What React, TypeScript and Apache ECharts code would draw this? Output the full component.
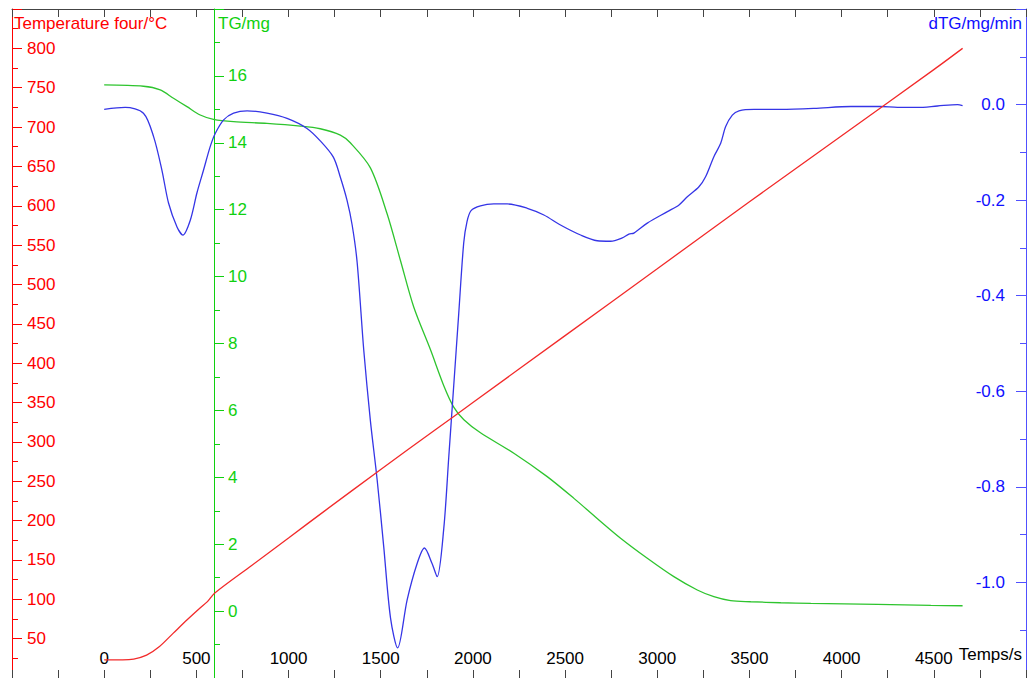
import React, { useEffect, useRef } from "react";
import * as echarts from "echarts";

// Time (s) and furnace temperature (°C)
const tempT = [0, 100, 160, 230, 300, 375, 450, 520, 560, 600, 800, 1000, 1200, 1500, 1800, 2000, 2500, 3000, 3500, 4000, 4500, 4656];
const tempV = [23, 23, 24, 29, 40, 57, 74, 89, 97, 108, 143, 178, 213, 265, 316, 350, 435, 520, 605, 689, 773, 800];

// Time (s) and TG (mg)
const tgT = [0, 213, 304, 376, 449, 521, 593, 702, 883, 1064, 1172, 1281, 1335, 1444, 1535, 1607, 1679, 1770, 1842, 1896, 1951, 2041, 2222, 2403, 2548, 2674, 2801, 2946, 3090, 3217, 3307, 3398, 3507, 3670, 3833, 4194, 4484, 4656];
const tgV = [15.73, 15.69, 15.58, 15.33, 15.08, 14.83, 14.7, 14.63, 14.58, 14.5, 14.42, 14.23, 14.0, 13.25, 11.87, 10.48, 9.09, 7.81, 6.74, 6.1, 5.72, 5.33, 4.72, 4.02, 3.37, 2.77, 2.18, 1.58, 1.03, 0.63, 0.43, 0.31, 0.28, 0.25, 0.23, 0.2, 0.17, 0.16];

// Time (s) and dTG (mg/min)
const dtgT = [0, 114, 213, 268, 313, 349, 395, 427, 467, 503, 539, 575, 603, 648, 702, 775, 883, 992, 1100, 1172, 1243, 1281, 1317, 1345, 1372, 1408, 1444, 1480, 1516, 1553, 1592, 1643, 1697, 1737, 1779, 1806, 1842, 1869, 1896, 1923, 1950, 1968, 1990, 2041, 2113, 2186, 2295, 2385, 2475, 2584, 2674, 2747, 2810, 2846, 2873, 2946, 3055, 3118, 3163, 3226, 3262, 3307, 3344, 3371, 3407, 3443, 3525, 3670, 3850, 4050, 4212, 4303, 4412, 4520, 4629, 4656];
const dtgV = [-0.01, -0.006, -0.018, -0.067, -0.137, -0.206, -0.256, -0.273, -0.242, -0.185, -0.137, -0.088, -0.06, -0.032, -0.018, -0.013, -0.018, -0.029, -0.05, -0.076, -0.11, -0.152, -0.2, -0.252, -0.33, -0.514, -0.662, -0.783, -0.924, -1.074, -1.137, -1.037, -0.961, -0.928, -0.961, -0.988, -0.887, -0.738, -0.588, -0.438, -0.29, -0.245, -0.222, -0.212, -0.208, -0.208, -0.217, -0.231, -0.252, -0.273, -0.285, -0.286, -0.279, -0.271, -0.269, -0.248, -0.224, -0.21, -0.193, -0.172, -0.151, -0.109, -0.081, -0.046, -0.022, -0.013, -0.01, -0.01, -0.008, -0.004, -0.004, -0.006, -0.006, -0.003, 0.0, -0.002];

const xLabels = [0, 500, 1000, 1500, 2000, 2500, 3000, 3500, 4000, 4500];
const tempLabels = [50, 100, 150, 200, 250, 300, 350, 400, 450, 500, 550, 600, 650, 700, 750, 800];
const tgLabels = [0, 2, 4, 6, 8, 10, 12, 14, 16];
const dtgLabels = [-1.0, -0.8, -0.6, -0.4, -0.2, 0.0];

const zip = (a: number[], b: number[]) => a.map((v, i) => [v, b[i]]);

const FONT = "Liberation Sans, Arial, sans-serif";
const FS = 17;
const RED = "#ff0000";
const GREEN = "#10d010";
const BLUE = "#1010ff";

export default function App() {
  const ref = useRef<HTMLDivElement>(null);
  useEffect(() => {
    if (!ref.current) return;
    const chart = echarts.init(ref.current, undefined, { renderer: "svg" });
    const has = (arr: number[], v: number) => arr.some((x) => Math.abs(x - v) < 1e-6);
    chart.setOption({
      animation: false,
      backgroundColor: "#ffffff",
      textStyle: { fontFamily: FONT },
      grid: { left: 12, right: 8, top: 9, bottom: 0, containLabel: false },
      xAxis: [
        {
          type: "value",
          position: "bottom",
          min: -500,
          max: 5000,
          interval: 500,
          axisLine: { show: false },
          axisTick: { show: true, inside: true, length: 8, lineStyle: { color: "#444" } },
          minorTick: { show: true, splitNumber: 2, length: 8, lineStyle: { color: "#444" } },
          splitLine: { show: false },
          axisLabel: {
            inside: true,
            margin: 11,
            color: "#000",
            fontSize: FS,
            fontFamily: FONT,
            formatter: (v: number) => (has(xLabels, v) ? String(v) : ""),
          },
        },
        {
          type: "value",
          position: "top",
          min: -500,
          max: 5000,
          interval: 500,
          axisLine: { show: true, onZero: false, lineStyle: { color: "#444", width: 1 } },
          axisTick: { show: true, inside: true, length: 8, lineStyle: { color: "#444" } },
          minorTick: { show: true, splitNumber: 2, length: 8, lineStyle: { color: "#444" } },
          splitLine: { show: false },
          axisLabel: { show: false },
        },
      ],
      yAxis: [
        {
          type: "value",
          position: "left",
          min: 0,
          max: 850,
          interval: 50,
          axisLine: { show: true, onZero: false, lineStyle: { color: RED, width: 1 } },
          axisTick: { show: true, inside: true, length: 10, lineStyle: { color: RED } },
          minorTick: { show: true, splitNumber: 2, length: 6, lineStyle: { color: RED } },
          splitLine: { show: false },
          axisLabel: {
            inside: true,
            margin: 15,
            color: RED,
            fontSize: FS,
            fontFamily: FONT,
            formatter: (v: number) => (has(tempLabels, v) ? String(v) : ""),
          },
        },
        {
          type: "value",
          position: "left",
          offset: -202,
          min: -2,
          max: 18,
          interval: 2,
          axisLine: { show: true, onZero: false, lineStyle: { color: GREEN, width: 1 } },
          axisTick: { show: true, inside: true, length: 10, lineStyle: { color: GREEN } },
          minorTick: { show: true, splitNumber: 2, length: 6, lineStyle: { color: GREEN } },
          splitLine: { show: false },
          axisLabel: {
            inside: true,
            margin: 14,
            color: GREEN,
            fontSize: FS,
            fontFamily: FONT,
            formatter: (v: number) => (has(tgLabels, v) ? String(Math.round(v)) : ""),
          },
        },
        {
          type: "value",
          position: "right",
          min: -1.2,
          max: 0.2,
          interval: 0.2,
          axisLine: { show: true, onZero: false, lineStyle: { color: "#5050ff", width: 1 } },
          axisTick: { show: true, inside: true, length: 10, lineStyle: { color: "#5050ff" } },
          minorTick: { show: true, splitNumber: 2, length: 6, lineStyle: { color: "#5050ff" } },
          splitLine: { show: false },
          axisLabel: {
            inside: true,
            margin: 21,
            color: BLUE,
            fontSize: FS,
            fontFamily: FONT,
            formatter: (v: number) => (has(dtgLabels, v) ? (Math.abs(v) < 1e-9 ? "0.0" : v.toFixed(1)) : ""),
          },
        },
      ],
      series: [
        {
          name: "Temperature four",
          type: "line",
          xAxisIndex: 0,
          yAxisIndex: 0,
          data: zip(tempT, tempV),
          showSymbol: false,
          smooth: 0.3,
          lineStyle: { color: "#f22a2a", width: 1.3 },
          z: 3,
        },
        {
          name: "TG",
          type: "line",
          xAxisIndex: 0,
          yAxisIndex: 1,
          data: zip(tgT, tgV),
          showSymbol: false,
          smooth: 0.3,
          lineStyle: { color: "#2ec42e", width: 1.3 },
          z: 2,
        },
        {
          name: "dTG",
          type: "line",
          xAxisIndex: 0,
          yAxisIndex: 2,
          data: zip(dtgT, dtgV),
          showSymbol: false,
          smooth: 0.3,
          lineStyle: { color: "#3535e6", width: 1.3 },
          z: 2,
        },
      ],
      graphic: [
        {
          type: "text",
          left: 14,
          top: 15,
          style: { text: "Temperature four/°C", fill: RED, font: `${FS}px ${FONT}` },
        },
        {
          type: "text",
          left: 218,
          top: 15,
          style: { text: "TG/mg", fill: GREEN, font: `${FS}px ${FONT}` },
        },
        {
          type: "text",
          right: 12,
          top: 15,
          style: { text: "dTG/mg/min", fill: BLUE, font: `${FS}px ${FONT}` },
        },
        {
          type: "text",
          right: 12,
          top: 646,
          style: { text: "Temps/s", fill: "#000", font: `${FS}px ${FONT}` },
        },
      ],
    });
    return () => chart.dispose();
  }, []);
  return (
    <div
      ref={ref}
      style={{ position: "fixed", left: 0, top: 0, width: 1034, height: 678 }}
    />
  );
}
